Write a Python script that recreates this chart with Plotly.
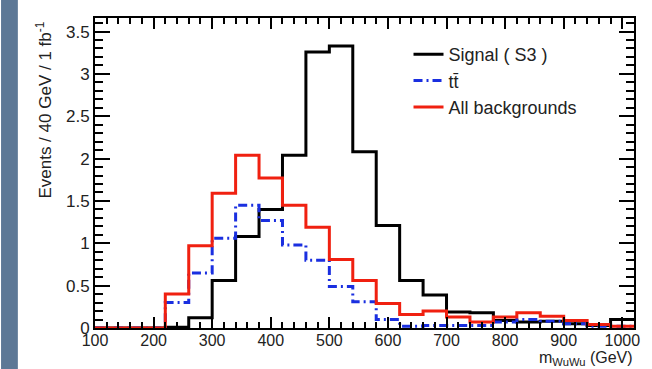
import plotly.graph_objects as go

bin_edges = [100 + 40 * i for i in range(24)]  # 100 .. 1020
signal = [0, 0, 0, 0.01, 0.12, 0.56, 1.08, 1.40, 2.04, 3.26, 3.33, 2.08, 1.21, 0.56,
          0.39, 0.19, 0.18, 0.09, 0.07, 0.08, 0.05, 0.03, 0.10]
ttbar = [0, 0, 0, 0.30, 0.65, 1.06, 1.45, 1.27, 0.98, 0.80, 0.49, 0.31, 0.10, 0.02,
         0.03, 0.03, 0.03, 0.07, 0.10, 0.08, 0.05, 0.02, 0.02]
allbkg = [0, 0, 0, 0.40, 0.97, 1.59, 2.04, 1.77, 1.45, 1.19, 0.81, 0.56, 0.29, 0.16,
          0.20, 0.13, 0.07, 0.13, 0.18, 0.14, 0.09, 0.04, 0.02]
series_names = ["Signal ( S3 )", "tt\u0304", "All backgrounds"]


def step(vals):
    return list(vals) + [vals[-1]]


fig = go.Figure()
fig.add_trace(go.Scatter(x=bin_edges, y=step(signal), mode="lines", line_shape="hv",
                         line=dict(color="black", width=3), name=series_names[0]))
fig.add_trace(go.Scatter(x=bin_edges, y=step(ttbar), mode="lines", line_shape="hv",
                         line=dict(color="#1a2fe0", width=3, dash="9px,4px,2px,4px"),
                         name=series_names[1]))
fig.add_trace(go.Scatter(x=bin_edges, y=step(allbkg), mode="lines", line_shape="hv",
                         line=dict(color="#f02010", width=3), name=series_names[2]))

W, H = 652, 369
L, R, T, B = 95, 12, 18, 41
pw = W - L - R
ph = H - T - B

ff = "Liberation Sans, Arial, sans-serif"
fnt = dict(family=ff, size=16, color="#222")

fig.update_layout(
    width=W, height=H,
    margin=dict(l=L, r=R, t=T, b=B),
    paper_bgcolor="white", plot_bgcolor="white",
    font=fnt,
    showlegend=True,
    legend=dict(x=(412 - L) / pw, y=(328 - 36) / ph, xanchor="left", yanchor="top",
                bgcolor="rgba(0,0,0,0)", font=dict(family=ff, size=18, color="#222"),
                tracegroupgap=0, itemwidth=30),
    xaxis=dict(range=[100, 1020], tick0=100, dtick=100, ticks="inside", ticklen=11,
               tickwidth=1.5, tickcolor="black", showline=True, linecolor="black",
               linewidth=2, mirror="ticks", showgrid=False, zeroline=False,
               tickfont=fnt, ticklabelstandoff=-3,
               minor=dict(dtick=20, tick0=100, ticks="inside", ticklen=6,
                          tickcolor="black", tickwidth=1.5, showgrid=False)),
    yaxis=dict(range=[0, 3.66], tick0=0, dtick=0.5, ticks="inside", ticklen=15,
               tickwidth=1.5, tickcolor="black", showline=True, linecolor="black",
               linewidth=2, mirror="ticks", showgrid=False, zeroline=False,
               tickfont=dict(family=ff, size=17, color="#222"),
               minor=dict(dtick=0.1, ticks="inside", ticklen=8, tickcolor="black",
                          tickwidth=1.5, showgrid=False)),
    shapes=[dict(type="rect", xref="paper", yref="paper",
                 x0=-L / pw, x1=(17 - L) / pw, y0=-B / ph, y1=1 + T / ph,
                 fillcolor="#5d7896", line=dict(width=0), layer="below")],
    annotations=[
        dict(text="Events / 40 GeV / 1 fb<sup>-1</sup>", textangle=-90,
             xref="paper", yref="paper", x=(43 - L) / pw, y=(328 - 110) / ph,
             xanchor="center", yanchor="middle", showarrow=False,
             font=dict(family=ff, size=17, color="#222")),
        dict(text="m<sub>WuWu</sub> (GeV)",
             xref="paper", yref="paper", x=(641 - L) / pw, y=(328 - 358) / ph,
             xanchor="right", yanchor="middle", showarrow=False,
             font=dict(family=ff, size=16, color="#222")),
    ],
)

fig.write_html("out.html")
